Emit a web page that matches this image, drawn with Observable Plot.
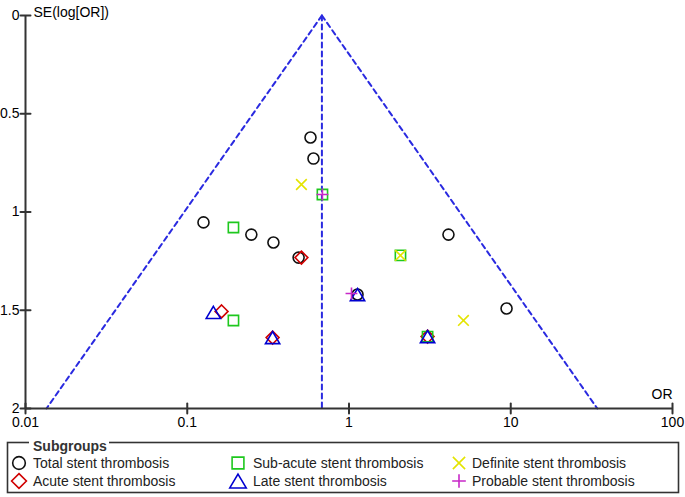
<!DOCTYPE html>
<html><head><meta charset="utf-8">
<script src="https://cdn.jsdelivr.net/npm/d3@7"></script>
<script src="https://cdn.jsdelivr.net/npm/@observablehq/plot@0.6"></script>
<style>
body{margin:0;background:#fff;font-family:"Liberation Sans",Arial,sans-serif;}
#chart svg{display:block;overflow:visible}
</style></head><body><div id="chart"></div>
<script>
// ---- data ----
const pooledOR = 0.68;
const seRange = [0, 2];
const xTicks = [0.01, 0.1, 1, 10, 100];
const xTickLabels = ["0.01", "0.1", "1", "10", "100"];
const yTicks = [0, 0.5, 1, 1.5, 2];
const yTickLabels = ["0", "0.5", "1", "1.5", "2"];

const totalOR = [0.578, 0.603, 0.126, 0.249, 0.341, 0.488, 4.12, 1.129, 9.42];
const totalSE = [0.621, 0.728, 1.053, 1.115, 1.155, 1.232, 1.115, 1.42, 1.491];
const acuteOR = [0.508, 0.163, 0.337, 3.06];
const acuteSE = [1.232, 1.506, 1.639, 1.634];
const subacuteOR = [0.685, 0.193, 2.08, 0.193, 3.06];
const subacuteSE = [0.911, 1.079, 1.221, 1.552, 1.634];
const lateOR = [0.145, 0.337, 1.129, 3.06];
const lateSE = [1.511, 1.639, 1.42, 1.634];
const definiteOR = [0.508, 2.08, 5.1];
const definiteSE = [0.86, 1.221, 1.552];
const probableOR = [0.685, 1.036];
const probableSE = [0.911, 1.415];

const seriesNames = ["Total stent thrombosis", "Acute stent thrombosis", "Sub-acute stent thrombosis",
  "Late stent thrombosis", "Definite stent thrombosis", "Probable stent thrombosis"];

// ---- build ----
const mk = (ors, ses) => ors.map((or, i) => ({or, se: ses[i]}));
const funnelLeft = seRange.map(se => ({or: pooledOR * Math.exp(-1.96 * se), se}));
const funnelRight = seRange.map(se => ({or: pooledOR * Math.exp(1.96 * se), se}));
const centerLine = seRange.map(se => ({or: pooledOR, se}));

const triSym = {draw(c, size) {
  const s = Math.sqrt(size / Math.PI);
  const hw = 1.3 * s, hh = 1.1 * s;
  c.moveTo(0, -hh); c.lineTo(hw, hh); c.lineTo(-hw, hh); c.closePath();
}};
const diaSym = {draw(c, size) {
  const s = Math.sqrt(size / Math.PI) * 1.15;
  c.moveTo(0, -s); c.lineTo(s, 0); c.lineTo(0, s); c.lineTo(-s, 0); c.closePath();
}};
const sqSym = {draw(c, size) {
  const s = Math.sqrt(size / Math.PI) * 0.95;
  c.moveTo(-s, -s); c.lineTo(s, -s); c.lineTo(s, s); c.lineTo(-s, s); c.closePath();
}};
const xSym = {draw(c, size) {
  const s = Math.sqrt(size / Math.PI) * 0.95;
  c.moveTo(-s, -s); c.lineTo(s, s); c.moveTo(-s, s); c.lineTo(s, -s);
}};
const plusSym = {draw(c, size) {
  const s = Math.sqrt(size / Math.PI) * 1.1;
  c.moveTo(-s, 0); c.lineTo(s, 0); c.moveTo(0, -s); c.lineTo(0, s);
}};
const circSym = {draw(c, size) {
  const s = Math.sqrt(size / Math.PI);
  c.moveTo(s, 0); c.arc(0, 0, s, 0, 2 * Math.PI);
}};

const series = [
  {data: mk(totalOR, totalSE), sym: circSym, color: "#111111", r: 5.5},
  {data: mk(acuteOR, acuteSE), sym: diaSym, color: "#d00000", r: 5.6},
  {data: mk(subacuteOR, subacuteSE), sym: sqSym, color: "#1ec81e", r: 5.4},
  {data: mk(lateOR, lateSE), sym: triSym, color: "#0000d0", r: 5.5},
  {data: mk(definiteOR, definiteSE), sym: xSym, color: "#e4e400", r: 5.6},
  {data: mk(probableOR, probableSE), sym: plusSym, color: "#c828c8", r: 5.4}
];

const lineStyle = {x: "or", y: "se", stroke: "#2a2ae0", strokeWidth: 2, strokeDasharray: "5,4"};
const tickShape = {draw(c, l) { c.moveTo(0, 0); c.lineTo(0, -l); }};
const axisColor = "#333";

const plot = Plot.plot({
  width: 685, height: 432,
  marginLeft: 25, marginRight: 13, marginTop: 15, marginBottom: 24,
  x: {type: "log", domain: [0.01, 100]},
  y: {domain: [0, 2], reverse: true},
  style: {fontFamily: "'Liberation Sans', Arial, sans-serif", fontSize: "14px", color: "#000", background: "#fff"},
  marks: [
    Plot.line(funnelLeft, lineStyle),
    Plot.line(funnelRight, lineStyle),
    Plot.line(centerLine, lineStyle),
    Plot.ruleY([2], {stroke: axisColor, strokeWidth: 2}),
    Plot.ruleX([0.01], {stroke: axisColor, strokeWidth: 2}),
    Plot.vector(xTicks, {x: d => d, y: () => 2, length: 10, anchor: "middle", shape: tickShape, stroke: axisColor, strokeWidth: 2}),
    Plot.vector(yTicks, {x: () => 0.01, y: d => d, length: 10, rotate: 90, anchor: "middle", shape: tickShape, stroke: axisColor, strokeWidth: 2}),
    Plot.axisX({ticks: xTicks, tickFormat: d => xTickLabels[xTicks.indexOf(d)], tickSize: 0, tickPadding: 9, fontSize: 14, label: null}),
    Plot.axisY({ticks: yTicks, tickFormat: d => yTickLabels[yTicks.indexOf(d)], tickSize: 0, tickPadding: 6, fontSize: 14, label: null}),
    ...series.map(s => Plot.dot(s.data, {x: "or", y: "se", symbol: s.sym, r: s.r, stroke: s.color, fill: "none", strokeWidth: 1.6})),
    Plot.text(["OR"], {frameAnchor: "bottom-right", dy: -10, textAnchor: "end", fontSize: 14}),
    Plot.text(["SE(log[OR])"], {frameAnchor: "top-left", dx: 8, dy: -8, textAnchor: "start", fontSize: 14})
  ]
});
document.getElementById("chart").appendChild(plot);

// ---- legend ----
const lg = d3.create("svg").attr("width", 685).attr("height", 65)
  .style("display", "block")
  .style("font-family", "'Liberation Sans', Arial, sans-serif").style("font-size", "14px");
lg.append("rect").attr("x", 7.5).attr("y", 10.5).attr("width", 671).attr("height", 50)
  .attr("fill", "none").attr("stroke", axisColor).attr("stroke-width", 1.6);
lg.append("rect").attr("x", 29).attr("y", 6).attr("width", 80).attr("height", 10).attr("fill", "#fff");
lg.append("text").attr("x", 33).attr("y", 14).attr("dy", "0.35em").attr("font-weight", "bold").attr("fill", "#333").text("Subgroups");
const colX = [19, 238, 459], textX = [33, 253, 472], rowY = [31, 49];
const order = [0, 2, 4, 1, 3, 5];
order.forEach((si, k) => {
  const col = k % 3, row = Math.floor(k / 3);
  const s = series[si];
  const r = s.r * 1.15;
  lg.append("path").attr("transform", `translate(${colX[col]},${rowY[row]})`)
    .attr("d", d3.symbol(s.sym, Math.PI * r * r)())
    .attr("fill", "none").attr("stroke", s.color).attr("stroke-width", 1.6);
  lg.append("text").attr("x", textX[col]).attr("y", rowY[row]).attr("dy", "0.35em").attr("fill", "#222").text(seriesNames[si]);
});
document.getElementById("chart").appendChild(lg.node());
</script></body></html>
